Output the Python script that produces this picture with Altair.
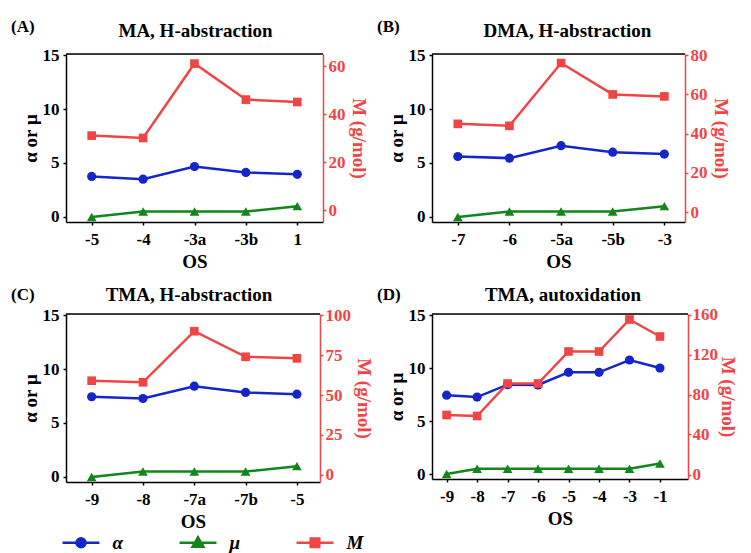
import altair as alt
import pandas as pd

FONT = "Liberation Serif"
BLUE = "#1426c8"
GREEN = "#12861a"
RED = "#f04545"

# ---------------- data ----------------
A_os = ["-5", "-4", "-3a", "-3b", "1"]
A_alpha = [3.75, 3.5, 4.67, 4.12, 3.95]
A_mu = [0, 0.5, 0.5, 0.5, 1]
A_M = [31, 30, 61, 46, 45]

B_os = ["-7", "-6", "-5a", "-5b", "-3"]
B_alpha = [5.6, 5.45, 6.6, 6.0, 5.83]
B_mu = [0, 0.5, 0.5, 0.5, 1]
B_M = [45, 44, 76, 60, 59]

C_os = ["-9", "-8", "-7a", "-7b", "-5"]
C_alpha = [7.43, 7.27, 8.41, 7.83, 7.67]
C_mu = [0, 0.5, 0.5, 0.5, 1]
C_M = [59, 58, 90, 74, 73]

D_os = ["-9", "-8", "-7", "-6", "-5", "-4", "-3", "-1"]
D_alpha = [7.44, 7.26, 8.43, 8.4, 9.6, 9.6, 10.76, 10.0]
D_mu = [0, 0.5, 0.5, 0.5, 0.5, 0.5, 0.5, 1]
D_M = [59.5, 58.5, 91, 91, 123, 123, 155, 138]

labels = ["(A)", "(B)", "(C)", "(D)"]
titles = ["MA, H-abstraction", "DMA, H-abstraction", "TMA, H-abstraction", "TMA, autoxidation"]
M_ticks = [[0, 20, 40, 60], [0, 20, 40, 60, 80], [0, 25, 50, 75, 100], [0, 40, 80, 120, 160]]
M_domains = [[-5, 65], [-5, 80.6], [-4.5, 100.8], [-4.5, 160.5]]

legend_names = ["α", "μ", "M"]
legend_colors = [BLUE, GREEN, RED]
legend_paths = [
    "M-4.1,0H4.1M1,0A1,1 0 1,1 -1,0A1,1 0 1,1 1,0Z",
    "M-4.1,0H4.1M0,-1.2L1.2,0.9L-1.2,0.9Z",
    "M-4.1,0H4.1M-0.95,-0.95H0.95V0.95H-0.95Z",
]

AX = dict(labelFont=FONT, titleFont=FONT, labelFontSize=17, titleFontSize=19,
          labelFontWeight="bold", titleFontWeight="bold", grid=False,
          domainWidth=1.5, tickWidth=1.5)


def panel(idx, os, alpha, mu, M, w, h, xmin, xmax, title_dx, title_y, label_y,
          rtitle_pad=3, rlabel_pad=2, with_legend=False):
    n = len(os)
    df = pd.DataFrame({"i": list(range(n)), "alpha": alpha, "mu": mu, "M": M})
    lab_js = "[" + ",".join("'%s'" % s for s in os) + "]"
    xscale = alt.Scale(domain=[xmin, xmax], nice=False, zero=False)
    x = alt.X("i:Q", scale=xscale,
              axis=alt.Axis(values=list(range(n)), labelExpr=lab_js + "[datum.value]",
                            title="OS", domainColor="black", tickColor="black",
                            labelColor="black", titleColor="black", tickSize=3,
                            labelPadding=6, titlePadding=5, labelFlush=False, **AX))
    yleft_scale = alt.Scale(domain=[-0.47, 15.1], nice=False, zero=False)
    yleft_axis = alt.Axis(values=[0, 5, 10, 15], title="α or μ", domainColor="black",
                          tickColor="black", labelColor="black", titleColor="black",
                          tickSize=3, labelPadding=4, titlePadding=2, **AX)
    base = alt.Chart(df)
    a_line = base.mark_line(color=BLUE, strokeWidth=2.5,
                            point=alt.OverlayMarkDef(shape="circle", filled=True, size=85,
                                                     color=BLUE, opacity=1)
                            ).encode(x=x, y=alt.Y("alpha:Q", scale=yleft_scale, axis=yleft_axis))
    m_line = base.mark_line(color=GREEN, strokeWidth=2.5,
                            point=alt.OverlayMarkDef(shape="triangle-up", filled=True, size=95,
                                                     color=GREEN, opacity=1)
                            ).encode(x=x, y=alt.Y("mu:Q", scale=yleft_scale, axis=yleft_axis))
    left = alt.layer(a_line, m_line)
    right = base.mark_line(color=RED, strokeWidth=2.5,
                           point=alt.OverlayMarkDef(shape="square", filled=True, size=75,
                                                    color=RED, opacity=1)
                           ).encode(
        x=x,
        y=alt.Y("M:Q", scale=alt.Scale(domain=M_domains[idx], nice=False, zero=False),
                axis=alt.Axis(orient="right", values=M_ticks[idx], title="M (g/mol)",
                              domainColor=RED, tickColor=RED, labelColor=RED, titleColor=RED,
                              tickSize=3, labelPadding=rlabel_pad, titlePadding=rtitle_pad, **AX)))
    tdf = pd.DataFrame({"t": [titles[idx]], "l": [labels[idx]]})
    # black top edge of the plot frame
    frame = alt.Chart(tdf).mark_rule(color="black", strokeWidth=1.5).encode(
        x=alt.value(0), x2=alt.value(w), y=alt.value(0))
    ttl = alt.Chart(tdf).mark_text(font=FONT, fontSize=19, fontWeight="bold", align="center",
                                  baseline="alphabetic", color="black").encode(
        text="t:N", x=alt.value(w / 2 + title_dx), y=alt.value(title_y))
    lbl = alt.Chart(tdf).mark_text(font=FONT, fontSize=17, fontWeight="bold", align="left",
                                  baseline="alphabetic", color="black").encode(
        text="l:N", x=alt.value(-55), y=alt.value(label_y))
    layers = [alt.layer(left, right).resolve_scale(y="independent"), frame, ttl, lbl]
    if with_legend:
        ldf = pd.DataFrame({"s": legend_names})
        leg = alt.Legend(orient="none", legendX=5.5, legendY=479, direction="horizontal",
                         title=None, symbolSize=81, symbolStrokeWidth=2.5, symbolOpacity=1,
                         labelOffset=22, columnPadding=45, gridAlign="all", padding=0,
                         labelFont=FONT, labelFontSize=19, labelFontWeight="bold",
                         labelFontStyle="italic", labelColor="black")
        sc_col = alt.Scale(domain=legend_names, range=legend_colors)
        sc_shape = alt.Scale(domain=legend_names, range=legend_paths)
        lg = alt.Chart(ldf).transform_filter("false").mark_point(opacity=1, strokeWidth=2.5).encode(
            x=alt.value(0), y=alt.value(0),
            fill=alt.Fill("s:N", scale=sc_col, legend=leg),
            stroke=alt.Stroke("s:N", scale=sc_col, legend=leg),
            shape=alt.Shape("s:N", scale=sc_shape, legend=leg))
        layers.append(lg)
    return alt.layer(*layers).properties(width=w, height=h)


pA = panel(0, A_os, A_alpha, A_mu, A_M, 257, 168, -0.5, 4.5, 1, -17, -22)
pB = panel(1, B_os, B_alpha, B_mu, B_M, 253, 168, -0.5, 4.4, 9, -17, -22)
pC = panel(2, C_os, C_alpha, C_mu, C_M, 254, 168, -0.5, 4.45, -4, -13, -14, with_legend=True)
pD = panel(3, D_os, D_alpha, D_mu, D_M, 256, 165, -0.48, 7.92, 3, -13, -14,
           rtitle_pad=0, rlabel_pad=1)

chart = alt.concat(pA, pB, pC, pD, columns=2, bounds="flush",
                   spacing={"row": 92, "column": 109}).properties(
    padding={"left": 2, "top": 9, "right": 0, "bottom": 0}
).configure_view(stroke="black", strokeWidth=1.5).configure(background="white")

chart.save("out.html", embed_options={"renderer": "svg", "actions": False})
